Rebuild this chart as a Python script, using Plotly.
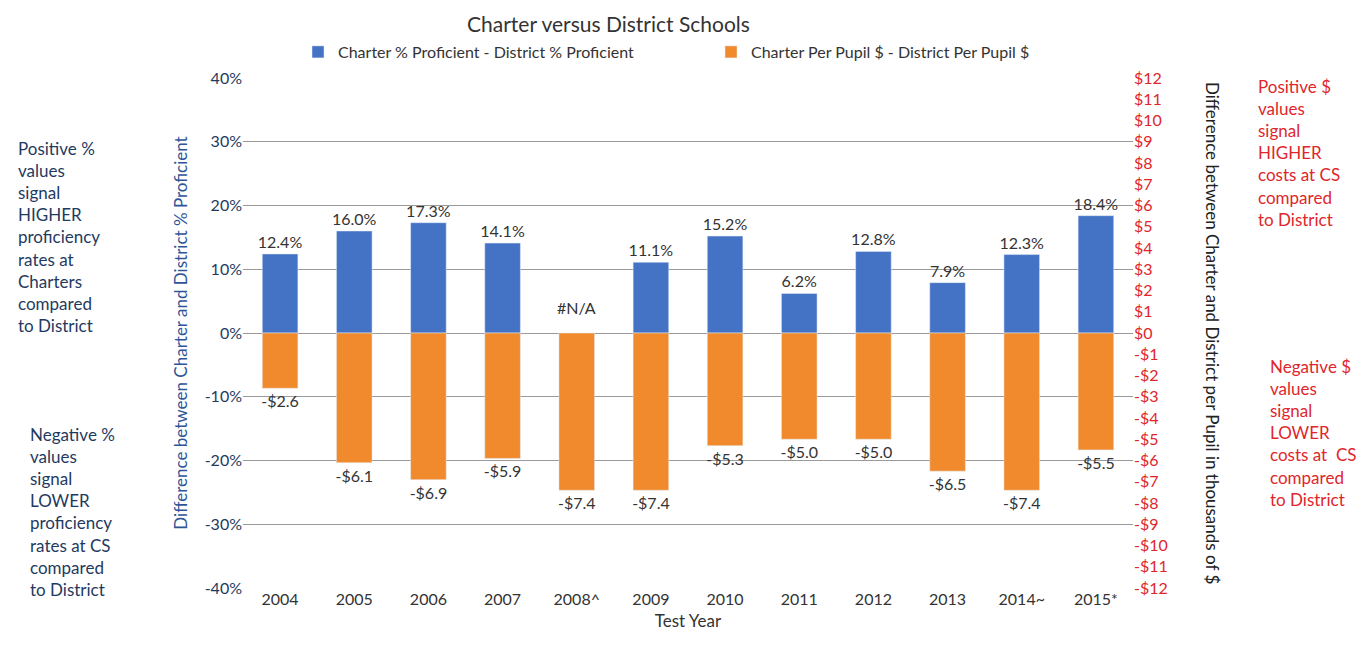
import plotly.graph_objects as go

years = ["2004", "2005", "2006", "2007", "2008^", "2009", "2010", "2011", "2012", "2013", "2014~", "2015*"]
prof_diff = [12.4, 16.0, 17.3, 14.1, None, 11.1, 15.2, 6.2, 12.8, 7.9, 12.3, 18.4]
dollar_diff = [-2.6, -6.1, -6.9, -5.9, -7.4, -7.4, -5.3, -5.0, -5.0, -6.5, -7.4, -5.5]

pct_ticks = [-40, -30, -20, -10, 0, 10, 20, 30, 40]
pct_ticktext = ["-40%", "-30%", "-20%", "-10%", "0%", "10%", "20%", "30%", "40%"]
dollar_tickvals = [-12, -11, -10, -9, -8, -7, -6, -5, -4, -3, -2, -1, 0, 1, 2, 3, 4, 5, 6, 7, 8, 9, 10, 11, 12]
dollar_ticktext = ["-$12", "-$11", "-$10", "-$9", "-$8", "-$7", "-$6", "-$5", "-$4", "-$3", "-$2", "-$1",
                   "$0", "$1", "$2", "$3", "$4", "$5", "$6", "$7", "$8", "$9", "$10", "$11", "$12"]

W, H = 1369, 650
L, R, T, B = 235, 244, 70, 70
PW, PH = W - L - R, H - T - B

def px(x):
    return (x - L) / PW

def py(y):
    return 1 - (y - T) / PH

FONT = "Lato"
BLUE = "#4472C4"
ORANGE = "#F08A2C"
RED = "#E0262B"
NAVY = "#1F3A5F"

fig = go.Figure()
fig.add_trace(go.Bar(
    x=years, y=prof_diff, name="Charter % Proficient - District % Proficient",
    marker_color=BLUE, width=0.48, offsetgroup="a",
    text=[("" if v is None else f"{v:.1f}%") for v in prof_diff],
    textposition="outside", cliponaxis=False, constraintext="none",
    textfont=dict(size=16, color="#333333", family=FONT),
    yaxis="y"))
fig.add_trace(go.Bar(
    x=years, y=dollar_diff, name="Charter Per Pupil $ - District Per Pupil $",
    marker_color=ORANGE, width=0.48, offsetgroup="a",
    text=[(f"-${abs(v):.1f}" if v < 0 else f"${v:.1f}") for v in dollar_diff],
    textposition="outside", cliponaxis=False, constraintext="none",
    textfont=dict(size=16, color="#333333", family=FONT),
    yaxis="y2"))

annotations = []
for yr, v in zip(years, prof_diff):
    if v is None:
        annotations.append(dict(x=yr, y=0, xref="x", yref="y", text="#N/A", showarrow=False,
                                yanchor="bottom", yshift=14, font=dict(size=16, color="#333333", family=FONT)))

annotations += [
    dict(x=px(600), y=py(16), xref="paper", yref="paper", text="Charter versus District Schools",
         showarrow=False, font=dict(size=21, color="#333333", family=FONT), xanchor="center", yanchor="middle"),
    dict(x=px(8), y=py(128), xref="paper", yref="paper", align="left", xanchor="left", yanchor="top",
         text="Positive %<br>values<br>signal<br>HIGHER<br>proficiency<br>rates at<br>Charters<br>compared<br>to District",
         showarrow=False, font=dict(size=17, color=NAVY, family=FONT)),
    dict(x=px(20), y=py(414), xref="paper", yref="paper", align="left", xanchor="left", yanchor="top",
         text="Negative %<br>values<br>signal<br>LOWER<br>proficiency<br>rates at CS<br>compared<br>to District",
         showarrow=False, font=dict(size=17, color=NAVY, family=FONT)),
    dict(x=px(1248), y=py(66), xref="paper", yref="paper", align="left", xanchor="left", yanchor="top",
         text="Positive $<br>values<br>signal<br>HIGHER<br>costs at CS<br>compared<br>to District",
         showarrow=False, font=dict(size=17, color=RED, family=FONT)),
    dict(x=px(1260), y=py(346), xref="paper", yref="paper", align="left", xanchor="left", yanchor="top",
         text="Negative $<br>values<br>signal<br>LOWER<br>costs at  CS<br>compared<br>to District",
         showarrow=False, font=dict(size=17, color=RED, family=FONT)),
    dict(x=px(1205), y=0.5, xref="paper", yref="paper", textangle=90,
         text="Difference between Charter and District per Pupil in thousands of $",
         showarrow=False, font=dict(size=17, color="#222222", family=FONT), xanchor="center", yanchor="middle"),
]

fig.update_layout(
    width=W, height=H,
    margin=dict(l=L, r=R, t=T, b=B),
    paper_bgcolor="white", plot_bgcolor="white",
    font=dict(family=FONT, size=16, color="#333333"),
    barmode="group",
    showlegend=True,
    legend=dict(orientation="h", x=px(290), y=py(44), xanchor="left", yanchor="middle",
                font=dict(size=16, color="#333333", family=FONT),
                entrywidth=368, entrywidthmode="pixels"),
    xaxis=dict(title=dict(text="Test Year", font=dict(size=17, color="#333333"), standoff=8),
               tickfont=dict(size=16, color="#333333"), showline=False, ticks=""),
    yaxis=dict(range=[-40, 40], tickvals=pct_ticks, ticktext=pct_ticktext,
               tickfont=dict(size=16, color=NAVY),
               title=dict(text="Difference between Charter and District % Proficient",
                          font=dict(size=17, color="#2F5597"), standoff=12),
               showgrid=True, gridcolor="#9a9a9a", gridwidth=1.2, zeroline=False),
    yaxis2=dict(range=[-12, 12], tickvals=dollar_tickvals, ticktext=dollar_ticktext,
                overlaying="y", side="right", showgrid=False, zeroline=False,
                tickfont=dict(size=16, color=RED)),
    annotations=annotations,
)

fig.write_html("out.html")
